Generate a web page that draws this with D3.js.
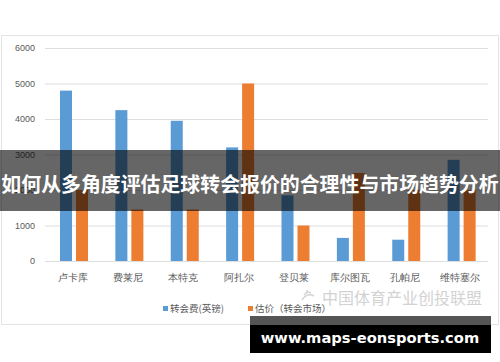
<!DOCTYPE html>
<html>
<head>
<meta charset="utf-8">
<script src="https://cdnjs.cloudflare.com/ajax/libs/d3/7.8.5/d3.min.js"></script>
<style>
	body { margin: 0; background: #fff; }
	svg { display: block; font-family: "Noto Sans CJK SC", "Noto Sans", sans-serif; }
</style>
</head>
<body>
<div id="chart"></div>
<script>
// data
var players = ["卢卡库", "费莱尼", "本特克", "阿扎尔", "登贝莱", "库尔图瓦", "孔帕尼", "维特塞尔"];
var transferFee = [4800, 4250, 3950, 3200, 1850, 650, 600, 2850];
var marketValue = [2000, 1450, 1450, 5000, 1000, 2480, 2000, 2000];
var seriesNames = ["转会费(英镑)", "估价（转会市场）"];
var yTicks = [0, 1000, 2000, 3000, 4000, 5000, 6000];
var bannerTitle = "如何从多角度评估足球转会报价的合理性与市场趋势分析";
var watermark = "中国体育产业创投联盟";
var siteText = "www.maps-eonsports.com";

var colors = ["#5b9bd5", "#ed7d31"];

var svg = d3.select("#chart").append("svg")
	.attr("width", 500)
	.attr("height", 362);

// chart frame
svg.append("rect")
	.attr("x", 1.5).attr("y", 35.5)
	.attr("width", 497).attr("height", 289)
	.attr("fill", "#fff")
	.attr("stroke", "#e3e3e3");

var x = d3.scaleBand()
	.domain(players)
	.range([45, 488]);

var x1 = d3.scaleBand()
	.domain(seriesNames)
	.range([15, 43])
	.paddingInner(0.25);

var y = d3.scaleLinear()
	.domain([0, 6000])
	.range([261, 48]);

// grid lines
svg.append("g")
	.attr("transform", "translate(45,0)")
	.call(d3.axisLeft(y).tickValues(yTicks).tickSize(-443).tickFormat(""))
	.call(function (g) { g.select(".domain").remove(); })
	.selectAll("line")
	.attr("stroke", "#dedede");

// y labels
svg.append("g")
	.attr("transform", "translate(45,0)")
	.call(d3.axisLeft(y).tickValues(yTicks).tickSize(0).tickPadding(10).tickFormat(d3.format("d")))
	.call(function (g) { g.select(".domain").remove(); })
	.selectAll("text")
	.attr("fill", "#595959")
	.attr("font-family", "'Liberation Sans', Arial, sans-serif")
	.attr("font-size", "9px");

var rows = players.map(function (p, i) {
	return { name: p, values: [transferFee[i], marketValue[i]] };
});

var groups = svg.append("g").selectAll("g")
	.data(rows)
	.enter()
	.append("g")
	.attr("transform", function (d) { return "translate(" + x(d.name) + ",0)"; });

groups.selectAll("rect")
	.data(function (d) { return d.values; })
	.enter()
	.append("rect")
	.attr("x", function (d, i) { return x1(seriesNames[i]); })
	.attr("y", function (d) { return y(d); })
	.attr("width", x1.bandwidth())
	.attr("height", function (d) { return y(0) - y(d); })
	.attr("fill", function (d, i) { return colors[i]; });

// x labels
svg.append("g")
	.attr("transform", "translate(0,261)")
	.call(d3.axisBottom(x).tickSize(0).tickPadding(13))
	.call(function (g) { g.select(".domain").remove(); })
	.selectAll("text")
	.attr("fill", "#595959")
	.attr("font-size", "9.5px");

// watermark
svg.append("path")
	.attr("d", "M302,300 q5,-8 12,-4 M304,295 q3,-4 7,-2 M306,291 l2,0")
	.attr("fill", "none")
	.attr("stroke", "#d4d4d4")
	.attr("stroke-width", 1.5);
svg.append("text")
	.attr("x", 322).attr("y", 304)
	.attr("font-size", "16px")
	.attr("fill", "#d2d2d2")
	.text(watermark);

// legend
var legend = svg.append("g").selectAll("g")
	.data(seriesNames)
	.enter()
	.append("g")
	.attr("transform", function (d, i) { return "translate(" + (163 + i * 85) + ",306)"; });
legend.append("rect")
	.attr("width", 5).attr("height", 5)
	.attr("fill", function (d, i) { return colors[i]; });
legend.append("text")
	.attr("x", 7).attr("y", 5.5)
	.attr("font-size", "9.5px")
	.attr("fill", "#595959")
	.text(function (d) { return d; });

// title banner
svg.append("rect")
	.attr("x", 0).attr("y", 150)
	.attr("width", 500).attr("height", 61)
	.attr("fill", "rgba(0,0,0,0.6)");
svg.append("text")
	.attr("x", 250).attr("y", 192)
	.attr("text-anchor", "middle")
	.attr("font-size", "19.9px")
	.attr("font-weight", "bold")
	.attr("fill", "#fff")
	.text(bannerTitle);

// site banner
svg.append("rect")
	.attr("x", 250).attr("y", 316)
	.attr("width", 241).attr("height", 9)
	.attr("fill", "#555");
svg.append("rect")
	.attr("x", 250).attr("y", 325)
	.attr("width", 241).attr("height", 28)
	.attr("fill", "#000");
svg.append("text")
	.attr("x", 370).attr("y", 343)
	.attr("text-anchor", "middle")
	.attr("font-family", "'DejaVu Sans', sans-serif")
	.attr("font-size", "14.7px")
	.attr("font-weight", "bold")
	.attr("fill", "#fff")
	.text(siteText);
</script>
</body>
</html>
